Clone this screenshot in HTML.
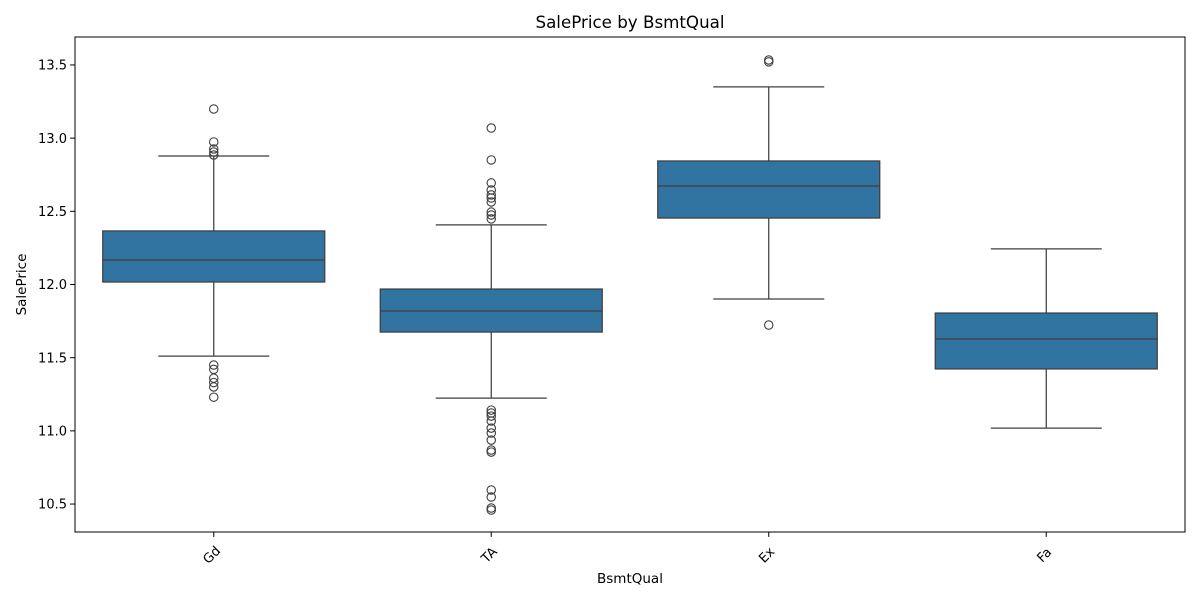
<!DOCTYPE html>
<html><head><meta charset="utf-8"><style>
body{margin:0;background:#fff;}
svg text{font-family:"DejaVu Sans","Liberation Sans",sans-serif;fill:#000;}
</style></head><body>
<svg id="chart" width="1200" height="600" xmlns="http://www.w3.org/2000/svg">
<rect width="1200" height="600" fill="#fff"/>
<text x="630" y="28" font-size="16.7" text-anchor="middle">SalePrice by BsmtQual</text>
<text x="630" y="583" font-size="13.5" text-anchor="middle">BsmtQual</text>
<text transform="translate(26,284.5) rotate(-90)" font-size="13.5" text-anchor="middle">SalePrice</text>
<g id="marks"></g>
<rect x="75" y="37" width="1110" height="495" fill="none" stroke="#000" stroke-width="1"/>
</svg>
<script>
const categories=["Gd","TA","Ex","Fa"];
const q1=[12.017,11.675,12.454,11.423];
const medians=[12.167,11.819,12.673,11.628];
const q3=[12.366,11.969,12.844,11.805];
const whiskerLow=[11.511,11.224,11.901,11.019];
const whiskerHigh=[12.878,12.407,13.350,12.243];
const outliersGd=[13.199,12.974,12.926,12.905,12.885,11.45,11.42,11.36,11.33,11.30,11.23];
const outliersTA=[13.069,12.851,12.694,12.646,12.612,12.591,12.564,12.495,12.475,12.448,11.142,11.122,11.101,11.067,11.019,10.985,10.937,10.869,10.855,10.596,10.548,10.473,10.459];
const outliersEx=[13.534,13.521,11.723];
const outliersFa=[];
const yTicks=[10.5,11.0,11.5,12.0,12.5,13.0,13.5];

const X0=75,X1=1185,Y0=37,Y1=532,yMin=10.309,yMax=13.691;
const band=(X1-X0)/categories.length;
const xc=i=>X0+band*(i+0.5);
const y=v=>Y1-(v-yMin)/(yMax-yMin)*(Y1-Y0);
const NS="http://www.w3.org/2000/svg";
const g=document.getElementById('marks');
function mk(tag,attrs,parent){const e=document.createElementNS(NS,tag);for(const k in attrs)e.setAttribute(k,attrs[k]);(parent||g).appendChild(e);return e;}
const LC="#3f3f3f";
yTicks.forEach(t=>{
  const tk=mk('line',{x1:X0-4.9,x2:X0,y1:y(t),y2:y(t),stroke:'#000'});
  
  
  const tx=mk('text',{x:X0-8,y:y(t)+4.7,'font-size':13,'text-anchor':'end'});
  tx.textContent=t.toFixed(1);
  
  
});
const outs=[outliersGd,outliersTA,outliersEx,outliersFa];
categories.forEach((c,i)=>{
  const cx=xc(i),w=band*0.8,cap=w/2;
  const grp=mk('g',{});
  
  
  mk('line',{x1:cx,x2:cx,y1:y(whiskerHigh[i]),y2:y(q3[i]),stroke:LC,'stroke-width':1.25},grp);
  mk('line',{x1:cx,x2:cx,y1:y(q1[i]),y2:y(whiskerLow[i]),stroke:LC,'stroke-width':1.25},grp);
  mk('line',{x1:cx-cap/2,x2:cx+cap/2,y1:y(whiskerHigh[i]),y2:y(whiskerHigh[i]),stroke:LC,'stroke-width':1.25},grp);
  mk('line',{x1:cx-cap/2,x2:cx+cap/2,y1:y(whiskerLow[i]),y2:y(whiskerLow[i]),stroke:LC,'stroke-width':1.25},grp);
  mk('rect',{x:cx-w/2,y:y(q3[i]),width:w,height:y(q1[i])-y(q3[i]),fill:'#3274a1',stroke:LC,'stroke-width':1.25},grp);
  mk('line',{x1:cx-w/2,x2:cx+w/2,y1:y(medians[i]),y2:y(medians[i]),stroke:LC,'stroke-width':1.25},grp);
  outs[i].forEach(v=>{
    const o=mk('circle',{cx:cx,cy:y(v),r:4.2,fill:'none',stroke:LC,'stroke-width':1.1},grp);
    
    
  });
  const tk=mk('line',{x1:cx,x2:cx,y1:Y1,y2:Y1+4.9,stroke:'#000'});
  
  
  const tx=mk('text',{x:0,y:0,'font-size':13,'text-anchor':'middle',transform:`translate(${cx+1},${Y1+26}) rotate(-45)`});
  tx.textContent=c;
  
  
});
</script>
</body></html>
